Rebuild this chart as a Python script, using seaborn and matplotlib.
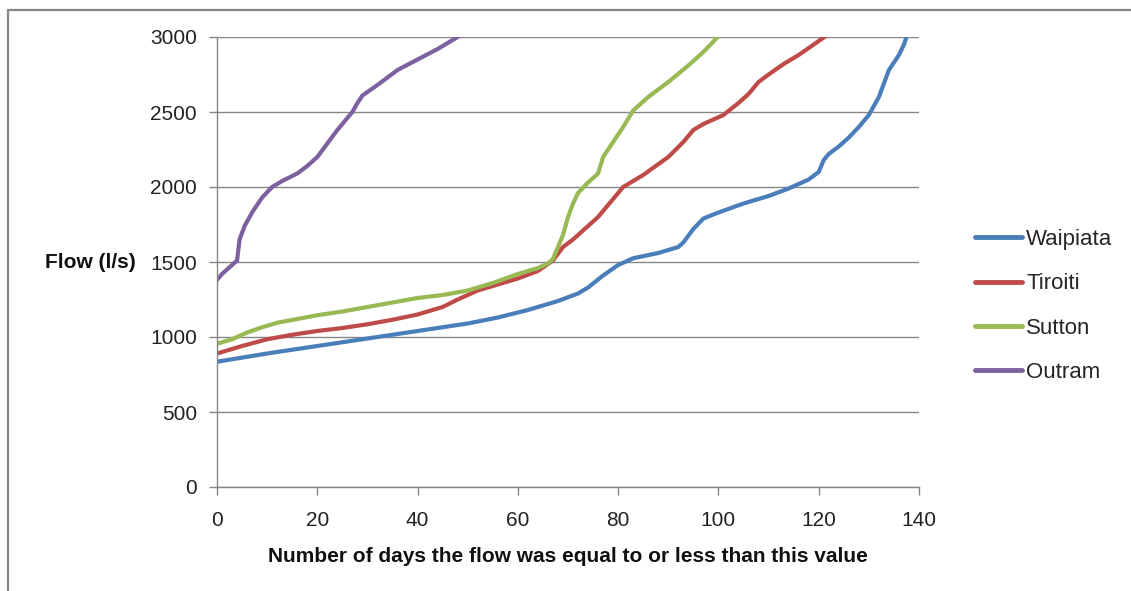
import pandas as pd
import matplotlib
matplotlib.use("Agg")
import matplotlib.pyplot as plt
from matplotlib.lines import Line2D
import seaborn as sns

# flow duration curves (days, flow in l/s)
waipiata_days = [0, 10, 20, 30, 40, 50, 56, 62, 68, 72, 74, 77, 80, 83, 88, 92, 93, 95, 97,
                 100, 105, 110, 114, 118, 120, 121, 122, 124, 126, 128, 130, 132, 134, 136, 137, 138]
waipiata_flow = [835, 890, 940, 990, 1040, 1090, 1130, 1180, 1240, 1290, 1330, 1410, 1480, 1525,
                 1560, 1600, 1630, 1720, 1790, 1830, 1890, 1940, 1990, 2050, 2100, 2180, 2220,
                 2270, 2330, 2400, 2480, 2600, 2780, 2880, 2950, 3050]

tiroiti_days = [0, 5, 10, 15, 20, 25, 30, 35, 40, 45, 48, 52, 56, 60, 64, 67, 69, 71, 73, 76,
                79, 81, 85, 90, 93, 95, 97, 101, 104, 106, 108, 110, 113, 116, 119, 122]
tiroiti_flow = [890, 940, 985, 1015, 1040, 1060, 1085, 1115, 1150, 1200, 1250, 1310, 1350, 1390,
                1440, 1510, 1600, 1650, 1710, 1800, 1920, 2000, 2080, 2200, 2300, 2380, 2420,
                2480, 2560, 2620, 2700, 2750, 2820, 2880, 2950, 3020]

sutton_days = [0, 3, 6, 9, 12, 16, 20, 25, 30, 35, 40, 45, 50, 55, 60, 64, 66, 67, 68, 69, 70,
               71, 72, 74, 76, 77, 79, 81, 83, 86, 90, 94, 97, 99, 101]
sutton_flow = [955, 985, 1030, 1065, 1095, 1120, 1145, 1170, 1200, 1230, 1260, 1280, 1310, 1360,
               1420, 1460, 1490, 1520, 1600, 1680, 1800, 1890, 1960, 2030, 2090, 2200, 2300,
               2400, 2510, 2600, 2700, 2810, 2900, 2970, 3040]

outram_days = [0, 1, 2, 3, 4, 4.5, 5.5, 7, 9, 11, 13, 16, 18, 20, 22, 24, 27, 28, 29, 32, 36,
               40, 44, 48, 50]
outram_flow = [1380, 1420, 1450, 1480, 1510, 1650, 1740, 1830, 1930, 2000, 2040, 2090, 2140, 2200,
               2290, 2380, 2500, 2560, 2610, 2680, 2780, 2850, 2920, 3000, 3040]

sites = ["Waipiata", "Tiroiti", "Sutton", "Outram"]
colors = {"Waipiata": "#4A7EBB", "Tiroiti": "#BE4B48", "Sutton": "#98B954", "Outram": "#7D60A0"}

frames = []
for name, d, f in [("Waipiata", waipiata_days, waipiata_flow),
                   ("Tiroiti", tiroiti_days, tiroiti_flow),
                   ("Sutton", sutton_days, sutton_flow),
                   ("Outram", outram_days, outram_flow)]:
    frames.append(pd.DataFrame({"days": d, "flow": f, "site": name}))
df = pd.concat(frames, ignore_index=True)

sns.set_theme(style="white")
plt.rcParams["font.family"] = ["Liberation Sans", "DejaVu Sans"]

W, H = 1131, 591
fig = plt.figure(figsize=(W / 100, H / 100), dpi=100)
ax = fig.add_axes([217 / W, 1 - 487 / H, 702 / W, 450 / H])

sns.lineplot(data=df, x="days", y="flow", hue="site", hue_order=sites, palette=colors,
             estimator=None, sort=False, linewidth=3, legend=False, ax=ax)

ax.set_xlim(0, 140)
ax.set_ylim(0, 3000)
ax.set_xticks(range(0, 141, 20))
ax.set_yticks(range(0, 3001, 500))
ax.grid(axis="y", color="#868686", linewidth=1)
ax.set_axisbelow(True)

for s in ["top", "right"]:
    ax.spines[s].set_visible(False)
for s in ["left", "bottom"]:
    ax.spines[s].set_color("#868686")
    ax.spines[s].set_linewidth(1)

ax.tick_params(axis="both", which="major", length=6, width=1, color="#868686",
               labelsize=15, labelcolor="#222222", direction="out")
ax.tick_params(axis="x", pad=11)
ax.tick_params(axis="y", pad=8.5)
ax.xaxis.set_ticks_position("bottom")
ax.yaxis.set_ticks_position("left")

ax.set_xlabel("Number of days the flow was equal to or less than this value",
              fontsize=15, fontweight="bold", color="#111111", labelpad=12.5)
ax.set_ylabel("Flow (l/s)", fontsize=15, fontweight="bold", color="#111111",
              rotation=0, ha="right", va="center")
ax.yaxis.set_label_coords((136 - 217) / 702, (487 - 263) / 450)

handles = [Line2D([], [], color=colors[s], linewidth=3.5) for s in sites]
fig.legend(handles, sites, loc="center left", bbox_to_anchor=(975 / W, 1 - 306 / H),
           frameon=False, fontsize=16, handlelength=2.1, handletextpad=0.2,
           labelspacing=1.05, borderpad=0, borderaxespad=0)

# outer chart frame (only top and left edges are visible in the crop)
fig.add_artist(Line2D([8 / W, 1.0], [1 - 10 / H, 1 - 10 / H], transform=fig.transFigure,
                      color="#868686", linewidth=1.6))
fig.add_artist(Line2D([8 / W, 8 / W], [0.0, 1 - 10 / H], transform=fig.transFigure,
                      color="#868686", linewidth=1.6))

fig.savefig("out.png", dpi=100)
